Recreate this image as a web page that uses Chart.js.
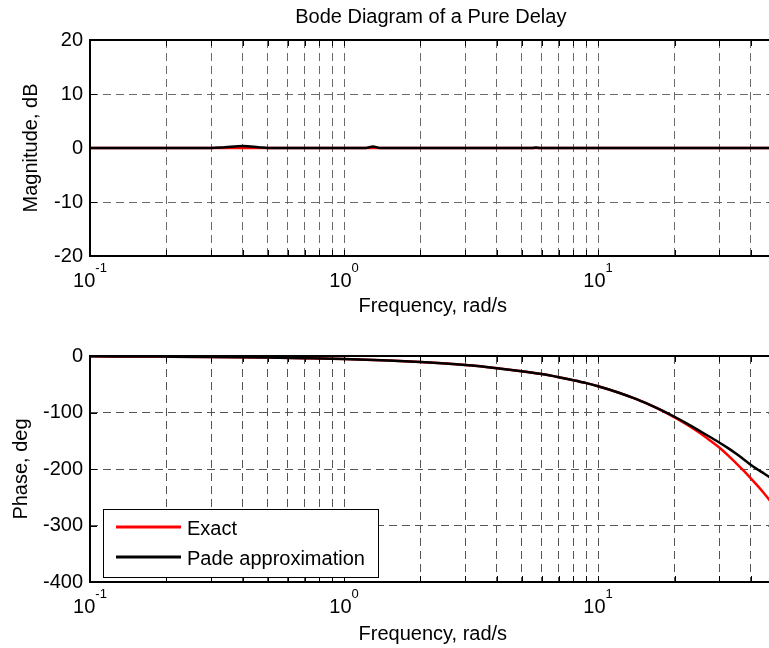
<!DOCTYPE html>
<html><head><meta charset="utf-8">
<script src="https://cdn.jsdelivr.net/npm/chart.js@4.4.1/dist/chart.umd.min.js"></script>
<style>
html,body{margin:0;padding:0;background:#fff;overflow:hidden;width:769px;height:648px;}
#wrap{position:relative;width:780px;height:648px;}
canvas{position:absolute;left:0;}
</style></head><body>
<div id="wrap">
<canvas id="mag" width="780" height="320" style="top:0"></canvas>
<canvas id="phase" width="780" height="328" style="top:320px"></canvas>
</div>
<script>
const chartTitle = 'Bode Diagram of a Pure Delay';
const xAxisTitle = 'Frequency, rad/s';
const magAxisTitle = 'Magnitude, dB';
const phaseAxisTitle = 'Phase, deg';
const seriesNames = ['Exact', 'Pade approximation'];
const seriesColors = ['#ff0000', '#000000'];

const xGridTicks = [0.1,0.2,0.3,0.4,0.5,0.6,0.7,0.8,0.9,1,2,3,4,5,6,7,8,9,10,20,30,40,50];
const xDecadeTicks = [0.1, 1, 10];
const xDecadeBase = ['10', '10', '10'];
const xDecadeExp = ['-1', '0', '1'];
const magTicks = [-20, -10, 0, 10, 20];
const phaseTicks = [-400, -300, -200, -100, 0];

const magFreq  = [0.1, 0.3, 0.34, 0.4, 0.46, 0.5, 1.0, 1.22, 1.3, 1.38, 5.5, 5.7, 5.9, 50];
const magExact = [0, 0, 0, 0, 0, 0, 0, 0, 0, 0, 0, 0, 0, 0];
const magPade  = [0, 0, 0.15, 0.35, 0.15, 0, 0, 0, 0.3, 0, 0, 0.1, 0, 0];

const phaseFreq  = [0.1, 0.2, 0.3, 0.5, 0.7, 1, 1.5, 2, 3, 4, 5, 6, 7, 8, 9, 10, 12, 14, 16, 18, 20, 22.5, 25, 27.5, 30, 32.5, 35, 37.5, 40, 42.5, 45, 47.5, 50];
const phaseExact = [-0.5, -1.1, -1.6, -2.7, -3.8, -5.3, -8, -10.7, -16, -21.5, -26.8, -32, -37.5, -42.8, -48, -53.5, -64.5, -75.5, -86.5, -97.5, -108.5, -122, -135.5, -149, -162, -176, -190, -203.5, -217, -230, -243, -256, -269];
const phasePade  = [-0.5, -1.1, -1.6, -2.7, -3.8, -5.3, -8, -10.7, -16, -21.5, -26.8, -32, -37.5, -42.8, -48, -53.5, -64.5, -75.5, -86.5, -97, -107.5, -120, -132, -143, -153, -163, -173, -183, -193, -201, -208, -215, -221];

const FAM = "'Liberation Sans', Arial, Helvetica, sans-serif";
const X_MIN = 0.1, X_MAX = 50;

function pts(xs, ys){ return xs.map((v,i)=>({x:v, y:ys[i]})); }

function decorPlugin(cfg){
  return {
    id: 'decor',
    afterDraw(chart){
      const {ctx, chartArea:a, scales:{x, y}} = chart;
      ctx.save();
      ctx.strokeStyle = '#000'; ctx.lineWidth = 1; ctx.setLineDash([]);
      ctx.beginPath();
      xGridTicks.forEach(v=>{
        const px = Math.round(x.getPixelForValue(v)) + 0.5;
        ctx.moveTo(px, a.bottom); ctx.lineTo(px, a.bottom - 6);
        ctx.moveTo(px, a.top); ctx.lineTo(px, a.top + 6);
      });
      cfg.yTicks.forEach(v=>{
        const py = Math.round(y.getPixelForValue(v)) + 0.5;
        ctx.moveTo(a.left, py); ctx.lineTo(a.left + 7, py);
        ctx.moveTo(a.right, py); ctx.lineTo(a.right - 7, py);
      });
      ctx.stroke();
      ctx.lineWidth = 2; ctx.strokeStyle = '#000';
      ctx.beginPath();
      ctx.moveTo(a.left, a.top); ctx.lineTo(a.right, a.top);
      ctx.moveTo(a.left, a.bottom); ctx.lineTo(a.right, a.bottom);
      ctx.moveTo(a.left, a.top - 1); ctx.lineTo(a.left, a.bottom + 1);
      ctx.moveTo(a.right, a.top - 1); ctx.lineTo(a.right, a.bottom + 1);
      ctx.stroke();
      ctx.fillStyle = '#000';
      ctx.textAlign = 'left'; ctx.textBaseline = 'alphabetic';
      xDecadeTicks.forEach((v,i)=>{
        ctx.font = '20px ' + FAM; const wb = ctx.measureText(xDecadeBase[i]).width;
        ctx.font = '13px ' + FAM; const we = ctx.measureText(xDecadeExp[i]).width;
        const px = x.getPixelForValue(v);
        const start = px - (wb + we) / 2;
        ctx.font = '20px ' + FAM; ctx.fillText(xDecadeBase[i], start, a.bottom + 31);
        ctx.font = '13px ' + FAM; ctx.fillText(xDecadeExp[i], start + wb, a.bottom + 16);
      });
      ctx.font = '20px ' + FAM; ctx.textAlign = 'center';
      ctx.fillText(xAxisTitle, (a.left + a.right) / 2, a.bottom + cfg.xTitleOff);
      if (cfg.title) ctx.fillText(cfg.title, (a.left + a.right) / 2 - 2, cfg.titleY);
      ctx.save();
      ctx.translate(cfg.yTitleX, (a.top + a.bottom) / 2);
      ctx.rotate(-Math.PI / 2);
      ctx.textAlign = 'center';
      ctx.fillText(cfg.yTitle, 0, 0);
      ctx.restore();
      if (cfg.legend){
        const L = cfg.legend;
        ctx.fillStyle = '#fff';
        ctx.fillRect(L.x, L.y, L.w, L.h);
        ctx.lineWidth = 1; ctx.strokeStyle = '#000';
        ctx.strokeRect(L.x + 0.5, L.y + 0.5, L.w, L.h);
        seriesNames.forEach((name, i)=>{
          const ly = L.y + 18 + i * 30;
          ctx.strokeStyle = seriesColors[i]; ctx.lineWidth = 3;
          ctx.beginPath(); ctx.moveTo(L.x + 13, ly); ctx.lineTo(L.x + 78, ly); ctx.stroke();
          ctx.fillStyle = '#000'; ctx.font = '20px ' + FAM; ctx.textAlign = 'left';
          ctx.fillText(name, L.x + 84, ly + 8);
        });
      }
      ctx.restore();
    }
  };
}

function makeChart(id, xs, exact, pade, yMin, yMax, yTicks, padTop, padBottom, gridColor, cfg){
  return new Chart(document.getElementById(id), {
    type: 'line',
    data: {
      datasets: [
        { label: seriesNames[0], data: pts(xs, exact), borderColor: seriesColors[0], borderWidth: 2.5,
          pointRadius: 0, cubicInterpolationMode: 'monotone', order: 1, fill: false },
        { label: seriesNames[1], data: pts(xs, pade), borderColor: seriesColors[1], borderWidth: 2.5,
          pointRadius: 0, cubicInterpolationMode: 'monotone', order: 0, fill: false }
      ]
    },
    options: {
      responsive: false, animation: false, devicePixelRatio: 1,
      layout: { padding: { left: 0, right: 4.4, top: padTop, bottom: padBottom } },
      plugins: { legend: { display: false }, tooltip: { enabled: false }, title: { display: false } },
      scales: {
        x: {
          type: 'logarithmic', min: X_MIN, max: X_MAX,
          afterBuildTicks(s){ s.ticks = xGridTicks.map(v=>({value: v})); },
          afterFit(s){ s.height = 0; },
          ticks: { display: false },
          grid: { color: gridColor, lineWidth: 1, drawTicks: false },
          border: { display: false, dash: [8, 5] }
        },
        y: {
          type: 'linear', min: yMin, max: yMax,
          afterBuildTicks(s){ s.ticks = yTicks.map(v=>({value: v})); },
          afterFit(s){ s.width = 90; },
          ticks: { color: '#000', font: { family: FAM, size: 20 }, padding: 7 },
          grid: { color: gridColor, lineWidth: 1, drawTicks: false },
          border: { display: false, dash: [8, 5] }
        }
      }
    },
    plugins: [decorPlugin(cfg)]
  });
}

makeChart('mag', magFreq, magExact, magPade, -20, 20, magTicks, 40, 64, '#6a6a6a', {
  yTicks: magTicks, xTitleOff: 56, title: chartTitle, titleY: 23, yTitle: magAxisTitle, yTitleX: 37
});
makeChart('phase', phaseFreq, phaseExact, phasePade, -400, 0, phaseTicks, 36, 66, '#555555', {
  yTicks: phaseTicks, xTitleOff: 58, yTitle: phaseAxisTitle, yTitleX: 27,
  legend: { x: 103, y: 189, w: 275, h: 68 }
});
</script>
</body></html>
